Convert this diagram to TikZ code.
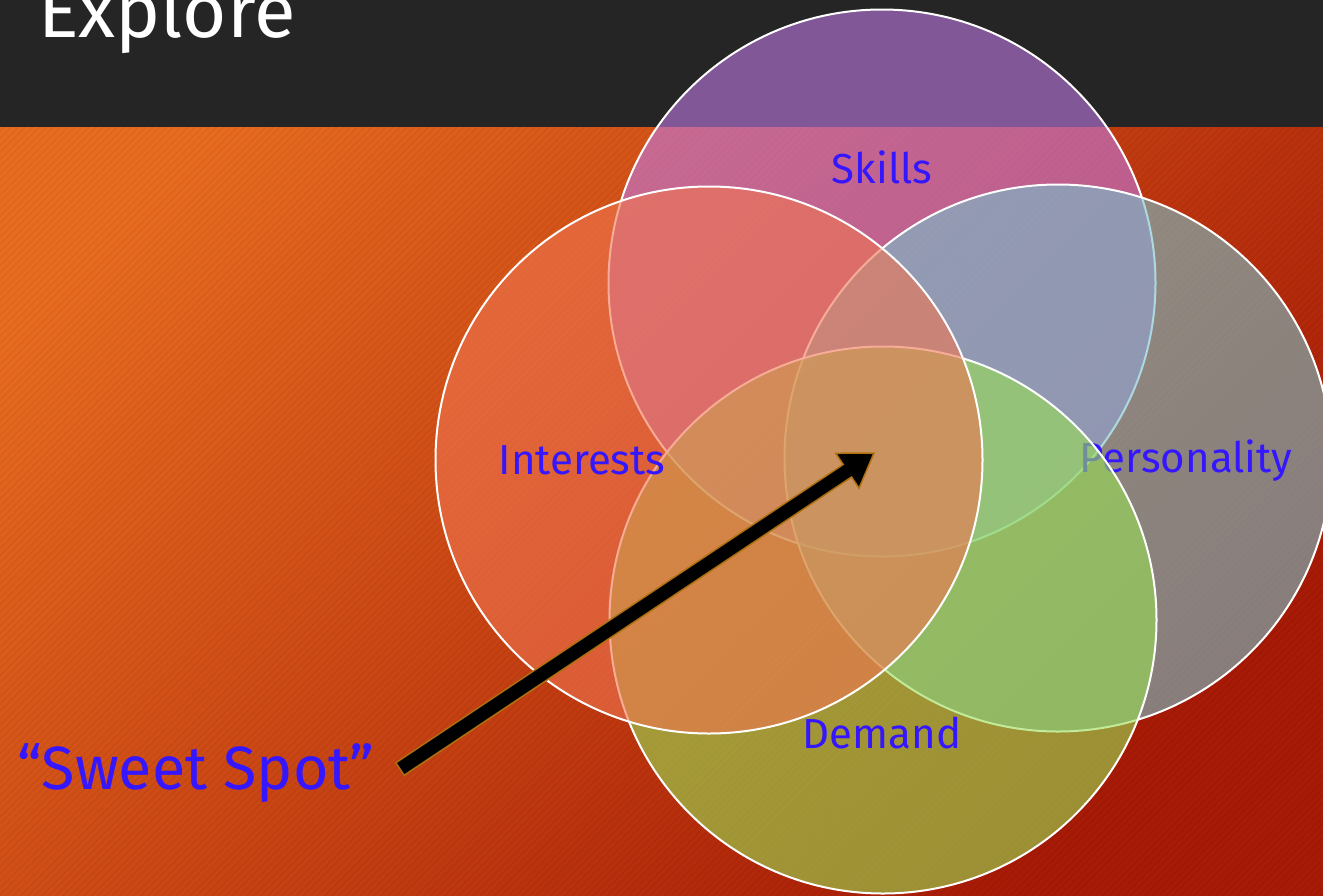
\documentclass[tikz,border=0pt]{standalone}
\usepackage{fontspec}
\setmainfont{Fira Sans}
\usetikzlibrary{calc,patterns.meta}
\definecolor{bgTL}{RGB}{232,108,32}
\definecolor{bgMid}{RGB}{212,80,20}
\definecolor{bgBR}{RGB}{166,26,6}
\definecolor{barcol}{RGB}{37,37,37}
\definecolor{cSkills}{RGB}{191,121,227}
\definecolor{cPers}{RGB}{118,193,203}
\definecolor{cDemand}{RGB}{152,222,84}
\definecolor{cInter}{RGB}{240,117,80}
\definecolor{lblcol}{RGB}{52,22,255}
\definecolor{arrowrim}{RGB}{176,112,16}
\begin{document}
\begin{tikzpicture}[x=1pt,y=-1pt,
  venn/.style={circle, minimum size=547pt, inner sep=0pt, outer sep=0pt, draw=white, line width=2pt, fill opacity=0.6},
  lab/.style={text=lblcol, font=\fontsize{42}{50}\selectfont, anchor=base, inner sep=0pt},
]
\useasboundingbox (0,0) rectangle (1323,895);
\clip (0,0) rectangle (1323,895);
% background
\shade[top color=bgTL, middle color=bgMid, bottom color=bgBR, shading angle=45] (0,0) rectangle (1323,895);
\fill[pattern={Lines[angle=45,distance=5pt,line width=1.2pt]}, pattern color=black, opacity=0.05] (0,127) rectangle (1323,895);
\fill[barcol] (0,0) rectangle (1323,127);
\node[anchor=base west, text=white, font=\fontsize{76}{84}\selectfont, inner sep=0pt] (title) at (38,37) {Explore};
% circles
\node[venn, fill=cSkills] (skills) at (882,283) {};
\node[lab] (skillsL) at (882,183) {Skills};
\node[venn, fill=cPers] (pers) at (1058,458) {};
\node[lab] (persL) at (1186,472) {Personality};
\node[venn, fill=cDemand] (demand) at (883,620) {};
\node[lab] (demandL) at (882,748) {Demand};
\node[venn, fill=cInter] (inter) at (709,460) {};
\node[lab] (interL) at (582,474) {Interests};
% sweet spot
\node[lab, font=\fontsize{61}{70}\selectfont, anchor=base west] (sweet) at (17,789) {“Sweet Spot”};
\coordinate (tail) at (400,769);
\coordinate (spot) at (874,453);
\coordinate (neck) at ($(spot)!32pt!(tail)$);
\filldraw[fill=black, draw=arrowrim, line width=1.5pt, line join=miter]
  ($(tail)!7.5pt!90:(spot)$) -- ($(neck)!7.5pt!90:(spot)$) -- ($(neck)!21pt!90:(spot)$)
  -- (spot) -- ($(neck)!21pt!-90:(spot)$) -- ($(neck)!7.5pt!-90:(spot)$)
  -- ($(tail)!7.5pt!-90:(spot)$) -- cycle;
\end{tikzpicture}
\end{document}
